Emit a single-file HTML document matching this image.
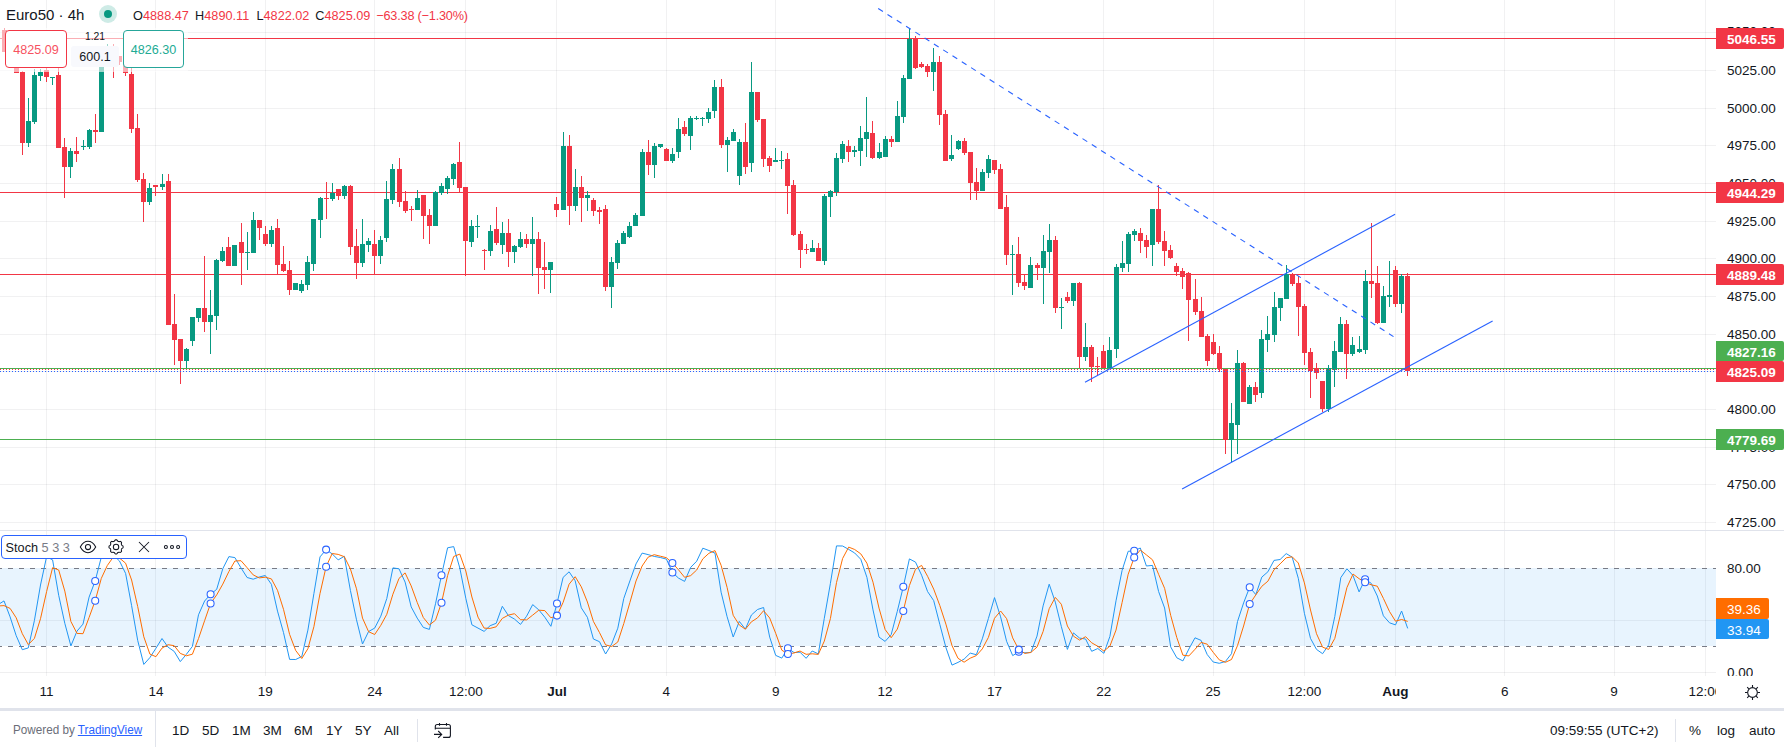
<!DOCTYPE html>
<html><head><meta charset="utf-8"><title>Euro50 chart</title>
<style>
html,body{margin:0;padding:0;background:#fff}
body{width:1784px;height:747px;position:relative;overflow:hidden;font-family:"Liberation Sans",sans-serif;color:#131722}
svg{position:absolute;left:0;top:0}
.abs{position:absolute;white-space:nowrap}
.al{position:absolute;left:1727px;font-size:13.5px;line-height:20px;color:#131722;white-space:nowrap}
.tag{position:absolute;left:1716px;color:#fff;font-size:13.5px;padding-left:11px;box-sizing:border-box;white-space:nowrap;border-radius:0 2px 2px 0}
.tl{position:absolute;top:681px;width:60px;text-align:center;font-size:13.5px;line-height:20px;color:#131722;white-space:nowrap}
#taxis{position:absolute;left:0;top:673px;width:1716px;height:35px;overflow:hidden}
#taxis .tl{top:8.7px}
.oh{top:6px;font-size:12.7px;line-height:20px;color:#131722} .oh span{color:#f23645}
.rb{position:absolute;top:721.1px;font-size:13.5px;line-height:20px;color:#131722}
</style></head><body>
<svg width="1784" height="747" viewBox="0 0 1784 747" shape-rendering="crispEdges">
<g shape-rendering="crispEdges">
<rect x="46" y="0" width="1" height="676" fill="#2a2e39" fill-opacity="0.065"/>
<rect x="155" y="0" width="1" height="676" fill="#2a2e39" fill-opacity="0.065"/>
<rect x="265" y="0" width="1" height="676" fill="#2a2e39" fill-opacity="0.065"/>
<rect x="374" y="0" width="1" height="676" fill="#2a2e39" fill-opacity="0.065"/>
<rect x="465" y="0" width="1" height="676" fill="#2a2e39" fill-opacity="0.065"/>
<rect x="556" y="0" width="1" height="676" fill="#2a2e39" fill-opacity="0.065"/>
<rect x="666" y="0" width="1" height="676" fill="#2a2e39" fill-opacity="0.065"/>
<rect x="775" y="0" width="1" height="676" fill="#2a2e39" fill-opacity="0.065"/>
<rect x="885" y="0" width="1" height="676" fill="#2a2e39" fill-opacity="0.065"/>
<rect x="994" y="0" width="1" height="676" fill="#2a2e39" fill-opacity="0.065"/>
<rect x="1103" y="0" width="1" height="676" fill="#2a2e39" fill-opacity="0.065"/>
<rect x="1213" y="0" width="1" height="676" fill="#2a2e39" fill-opacity="0.065"/>
<rect x="1304" y="0" width="1" height="676" fill="#2a2e39" fill-opacity="0.065"/>
<rect x="1395" y="0" width="1" height="676" fill="#2a2e39" fill-opacity="0.065"/>
<rect x="1504" y="0" width="1" height="676" fill="#2a2e39" fill-opacity="0.065"/>
<rect x="1614" y="0" width="1" height="676" fill="#2a2e39" fill-opacity="0.065"/>
<rect x="1705" y="0" width="1" height="676" fill="#2a2e39" fill-opacity="0.065"/>
<rect x="0" y="522" width="1716" height="1" fill="#2a2e39" fill-opacity="0.065"/>
<rect x="0" y="484" width="1716" height="1" fill="#2a2e39" fill-opacity="0.065"/>
<rect x="0" y="447" width="1716" height="1" fill="#2a2e39" fill-opacity="0.065"/>
<rect x="0" y="409" width="1716" height="1" fill="#2a2e39" fill-opacity="0.065"/>
<rect x="0" y="371" width="1716" height="1" fill="#2a2e39" fill-opacity="0.065"/>
<rect x="0" y="334" width="1716" height="1" fill="#2a2e39" fill-opacity="0.065"/>
<rect x="0" y="296" width="1716" height="1" fill="#2a2e39" fill-opacity="0.065"/>
<rect x="0" y="258" width="1716" height="1" fill="#2a2e39" fill-opacity="0.065"/>
<rect x="0" y="221" width="1716" height="1" fill="#2a2e39" fill-opacity="0.065"/>
<rect x="0" y="183" width="1716" height="1" fill="#2a2e39" fill-opacity="0.065"/>
<rect x="0" y="145" width="1716" height="1" fill="#2a2e39" fill-opacity="0.065"/>
<rect x="0" y="108" width="1716" height="1" fill="#2a2e39" fill-opacity="0.065"/>
<rect x="0" y="70" width="1716" height="1" fill="#2a2e39" fill-opacity="0.065"/>
<rect x="0" y="32" width="1716" height="1" fill="#2a2e39" fill-opacity="0.065"/>
<rect x="0" y="620" width="1716" height="1" fill="#2a2e39" fill-opacity="0.065"/>
<rect x="0" y="568.4" width="1716" height="77.8" fill="#2196f3" fill-opacity="0.1"/>
<line x1="0" y1="568.5" x2="1716" y2="568.5" stroke="#787b86" stroke-width="1" stroke-dasharray="5 6" stroke-dashoffset="3"/>
<line x1="0" y1="646.5" x2="1716" y2="646.5" stroke="#787b86" stroke-width="1" stroke-dasharray="5 6" stroke-dashoffset="3"/>
<rect x="0" y="530" width="1784" height="1" fill="#e0e3eb"/>
<rect x="0" y="672" width="1716" height="1" fill="#2a2e39" fill-opacity="0.075"/>
<rect x="0" y="38" width="1716" height="1" fill="#f23645"/>
<rect x="0" y="192" width="1716" height="1" fill="#f23645"/>
<rect x="0" y="274" width="1716" height="1" fill="#f23645"/>
<rect x="0" y="439" width="1716" height="1" fill="#4caf50"/>
<rect x="0" y="368" width="1716" height="1" fill="#4caf50"/>
<rect x="4" y="28" width="1" height="24" fill="#f23645"/>
<rect x="2" y="30" width="5" height="22" fill="#f23645"/>
<rect x="10" y="45" width="1" height="19" fill="#089981"/>
<rect x="8" y="49" width="5" height="11" fill="#089981"/>
<rect x="16" y="55" width="1" height="18" fill="#f23645"/>
<rect x="14" y="58" width="5" height="15" fill="#f23645"/>
<rect x="22" y="71" width="1" height="84" fill="#f23645"/>
<rect x="20" y="72" width="5" height="71" fill="#f23645"/>
<rect x="28" y="98" width="1" height="49" fill="#089981"/>
<rect x="26" y="121" width="5" height="22" fill="#089981"/>
<rect x="34" y="69" width="1" height="55" fill="#089981"/>
<rect x="32" y="75" width="5" height="47" fill="#089981"/>
<rect x="40" y="69" width="1" height="12" fill="#089981"/>
<rect x="38" y="72" width="5" height="4" fill="#089981"/>
<rect x="46" y="68" width="1" height="14" fill="#f23645"/>
<rect x="44" y="70" width="5" height="7" fill="#f23645"/>
<rect x="52" y="77" width="1" height="8" fill="#089981"/>
<rect x="50" y="77" width="5" height="1" fill="#089981"/>
<rect x="58" y="68" width="1" height="80" fill="#f23645"/>
<rect x="56" y="75" width="5" height="73" fill="#f23645"/>
<rect x="64" y="138" width="1" height="60" fill="#f23645"/>
<rect x="62" y="147" width="5" height="20" fill="#f23645"/>
<rect x="70" y="148" width="1" height="30" fill="#089981"/>
<rect x="68" y="151" width="5" height="16" fill="#089981"/>
<rect x="76" y="137" width="1" height="25" fill="#f23645"/>
<rect x="74" y="151" width="5" height="3" fill="#f23645"/>
<rect x="83" y="140" width="1" height="10" fill="#089981"/>
<rect x="81" y="146" width="5" height="1" fill="#089981"/>
<rect x="89" y="129" width="1" height="20" fill="#089981"/>
<rect x="87" y="130" width="5" height="17" fill="#089981"/>
<rect x="95" y="114" width="1" height="29" fill="#f23645"/>
<rect x="93" y="130" width="5" height="2" fill="#f23645"/>
<rect x="101" y="55" width="1" height="77" fill="#089981"/>
<rect x="99" y="60" width="5" height="72" fill="#089981"/>
<rect x="107" y="44" width="1" height="16" fill="#089981"/>
<rect x="105" y="48" width="5" height="10" fill="#089981"/>
<rect x="113" y="44" width="1" height="34" fill="#f23645"/>
<rect x="111" y="50" width="5" height="16" fill="#f23645"/>
<rect x="119" y="56" width="1" height="9" fill="#f23645"/>
<rect x="117" y="56" width="5" height="6" fill="#f23645"/>
<rect x="125" y="56" width="1" height="20" fill="#f23645"/>
<rect x="123" y="60" width="5" height="13" fill="#f23645"/>
<rect x="131" y="68" width="1" height="65" fill="#f23645"/>
<rect x="129" y="74" width="5" height="55" fill="#f23645"/>
<rect x="137" y="114" width="1" height="68" fill="#f23645"/>
<rect x="135" y="128" width="5" height="52" fill="#f23645"/>
<rect x="143" y="173" width="1" height="49" fill="#f23645"/>
<rect x="141" y="179" width="5" height="23" fill="#f23645"/>
<rect x="149" y="183" width="1" height="22" fill="#089981"/>
<rect x="147" y="188" width="5" height="14" fill="#089981"/>
<rect x="155" y="185" width="1" height="11" fill="#f23645"/>
<rect x="153" y="185" width="5" height="2" fill="#f23645"/>
<rect x="162" y="174" width="1" height="16" fill="#089981"/>
<rect x="160" y="184" width="5" height="3" fill="#089981"/>
<rect x="168" y="174" width="1" height="151" fill="#f23645"/>
<rect x="166" y="181" width="5" height="144" fill="#f23645"/>
<rect x="174" y="294" width="1" height="71" fill="#f23645"/>
<rect x="172" y="324" width="5" height="16" fill="#f23645"/>
<rect x="180" y="339" width="1" height="45" fill="#f23645"/>
<rect x="178" y="339" width="5" height="22" fill="#f23645"/>
<rect x="186" y="348" width="1" height="20" fill="#089981"/>
<rect x="184" y="349" width="5" height="12" fill="#089981"/>
<rect x="192" y="317" width="1" height="29" fill="#089981"/>
<rect x="190" y="317" width="5" height="24" fill="#089981"/>
<rect x="198" y="308" width="1" height="14" fill="#089981"/>
<rect x="196" y="308" width="5" height="10" fill="#089981"/>
<rect x="204" y="256" width="1" height="76" fill="#f23645"/>
<rect x="202" y="308" width="5" height="14" fill="#f23645"/>
<rect x="210" y="290" width="1" height="64" fill="#089981"/>
<rect x="208" y="315" width="5" height="7" fill="#089981"/>
<rect x="216" y="259" width="1" height="71" fill="#089981"/>
<rect x="214" y="260" width="5" height="56" fill="#089981"/>
<rect x="222" y="247" width="1" height="15" fill="#089981"/>
<rect x="220" y="251" width="5" height="10" fill="#089981"/>
<rect x="228" y="237" width="1" height="29" fill="#f23645"/>
<rect x="226" y="247" width="5" height="19" fill="#f23645"/>
<rect x="234" y="245" width="1" height="21" fill="#089981"/>
<rect x="232" y="245" width="5" height="21" fill="#089981"/>
<rect x="241" y="223" width="1" height="62" fill="#f23645"/>
<rect x="239" y="242" width="5" height="11" fill="#f23645"/>
<rect x="247" y="232" width="1" height="38" fill="#089981"/>
<rect x="245" y="252" width="5" height="1" fill="#089981"/>
<rect x="253" y="212" width="1" height="41" fill="#089981"/>
<rect x="251" y="220" width="5" height="33" fill="#089981"/>
<rect x="259" y="220" width="1" height="20" fill="#f23645"/>
<rect x="257" y="220" width="5" height="8" fill="#f23645"/>
<rect x="265" y="226" width="1" height="20" fill="#f23645"/>
<rect x="263" y="234" width="5" height="10" fill="#f23645"/>
<rect x="271" y="226" width="1" height="21" fill="#089981"/>
<rect x="269" y="230" width="5" height="14" fill="#089981"/>
<rect x="277" y="219" width="1" height="56" fill="#f23645"/>
<rect x="275" y="228" width="5" height="37" fill="#f23645"/>
<rect x="283" y="246" width="1" height="26" fill="#f23645"/>
<rect x="281" y="264" width="5" height="7" fill="#f23645"/>
<rect x="289" y="261" width="1" height="34" fill="#f23645"/>
<rect x="287" y="270" width="5" height="20" fill="#f23645"/>
<rect x="295" y="283" width="1" height="7" fill="#089981"/>
<rect x="293" y="283" width="5" height="7" fill="#089981"/>
<rect x="301" y="280" width="1" height="13" fill="#089981"/>
<rect x="299" y="284" width="5" height="7" fill="#089981"/>
<rect x="307" y="256" width="1" height="34" fill="#089981"/>
<rect x="305" y="262" width="5" height="23" fill="#089981"/>
<rect x="313" y="219" width="1" height="52" fill="#089981"/>
<rect x="311" y="219" width="5" height="45" fill="#089981"/>
<rect x="320" y="197" width="1" height="41" fill="#089981"/>
<rect x="318" y="198" width="5" height="22" fill="#089981"/>
<rect x="326" y="182" width="1" height="37" fill="#f23645"/>
<rect x="324" y="198" width="5" height="1" fill="#f23645"/>
<rect x="332" y="183" width="1" height="18" fill="#089981"/>
<rect x="330" y="193" width="5" height="6" fill="#089981"/>
<rect x="338" y="189" width="1" height="11" fill="#f23645"/>
<rect x="336" y="189" width="5" height="7" fill="#f23645"/>
<rect x="344" y="185" width="1" height="14" fill="#089981"/>
<rect x="342" y="186" width="5" height="10" fill="#089981"/>
<rect x="350" y="185" width="1" height="70" fill="#f23645"/>
<rect x="348" y="186" width="5" height="61" fill="#f23645"/>
<rect x="356" y="229" width="1" height="50" fill="#f23645"/>
<rect x="354" y="246" width="5" height="17" fill="#f23645"/>
<rect x="362" y="219" width="1" height="48" fill="#089981"/>
<rect x="360" y="244" width="5" height="19" fill="#089981"/>
<rect x="368" y="238" width="1" height="14" fill="#089981"/>
<rect x="366" y="241" width="5" height="4" fill="#089981"/>
<rect x="374" y="230" width="1" height="45" fill="#f23645"/>
<rect x="372" y="244" width="5" height="12" fill="#f23645"/>
<rect x="380" y="236" width="1" height="28" fill="#089981"/>
<rect x="378" y="240" width="5" height="16" fill="#089981"/>
<rect x="386" y="181" width="1" height="61" fill="#089981"/>
<rect x="384" y="199" width="5" height="39" fill="#089981"/>
<rect x="392" y="164" width="1" height="40" fill="#089981"/>
<rect x="390" y="169" width="5" height="31" fill="#089981"/>
<rect x="399" y="158" width="1" height="49" fill="#f23645"/>
<rect x="397" y="169" width="5" height="33" fill="#f23645"/>
<rect x="405" y="191" width="1" height="22" fill="#f23645"/>
<rect x="403" y="201" width="5" height="10" fill="#f23645"/>
<rect x="411" y="206" width="1" height="15" fill="#f23645"/>
<rect x="409" y="209" width="5" height="1" fill="#f23645"/>
<rect x="417" y="190" width="1" height="20" fill="#089981"/>
<rect x="415" y="198" width="5" height="12" fill="#089981"/>
<rect x="423" y="195" width="1" height="44" fill="#f23645"/>
<rect x="421" y="195" width="5" height="21" fill="#f23645"/>
<rect x="429" y="209" width="1" height="35" fill="#f23645"/>
<rect x="427" y="215" width="5" height="11" fill="#f23645"/>
<rect x="435" y="191" width="1" height="35" fill="#089981"/>
<rect x="433" y="192" width="5" height="34" fill="#089981"/>
<rect x="441" y="183" width="1" height="12" fill="#089981"/>
<rect x="439" y="186" width="5" height="7" fill="#089981"/>
<rect x="447" y="176" width="1" height="18" fill="#089981"/>
<rect x="445" y="178" width="5" height="11" fill="#089981"/>
<rect x="453" y="163" width="1" height="22" fill="#089981"/>
<rect x="451" y="164" width="5" height="15" fill="#089981"/>
<rect x="459" y="142" width="1" height="51" fill="#f23645"/>
<rect x="457" y="162" width="5" height="26" fill="#f23645"/>
<rect x="465" y="187" width="1" height="89" fill="#f23645"/>
<rect x="463" y="187" width="5" height="54" fill="#f23645"/>
<rect x="471" y="220" width="1" height="27" fill="#089981"/>
<rect x="469" y="226" width="5" height="16" fill="#089981"/>
<rect x="477" y="215" width="1" height="23" fill="#089981"/>
<rect x="475" y="226" width="5" height="1" fill="#089981"/>
<rect x="484" y="249" width="1" height="21" fill="#f23645"/>
<rect x="482" y="250" width="5" height="1" fill="#f23645"/>
<rect x="490" y="225" width="1" height="31" fill="#089981"/>
<rect x="488" y="231" width="5" height="20" fill="#089981"/>
<rect x="496" y="207" width="1" height="38" fill="#f23645"/>
<rect x="494" y="229" width="5" height="14" fill="#f23645"/>
<rect x="502" y="222" width="1" height="32" fill="#089981"/>
<rect x="500" y="233" width="5" height="12" fill="#089981"/>
<rect x="508" y="219" width="1" height="48" fill="#f23645"/>
<rect x="506" y="233" width="5" height="19" fill="#f23645"/>
<rect x="514" y="245" width="1" height="18" fill="#089981"/>
<rect x="512" y="246" width="5" height="6" fill="#089981"/>
<rect x="520" y="232" width="1" height="16" fill="#089981"/>
<rect x="518" y="239" width="5" height="8" fill="#089981"/>
<rect x="526" y="234" width="1" height="14" fill="#f23645"/>
<rect x="524" y="239" width="5" height="5" fill="#f23645"/>
<rect x="532" y="217" width="1" height="59" fill="#089981"/>
<rect x="530" y="239" width="5" height="5" fill="#089981"/>
<rect x="538" y="232" width="1" height="62" fill="#f23645"/>
<rect x="536" y="239" width="5" height="29" fill="#f23645"/>
<rect x="544" y="242" width="1" height="47" fill="#f23645"/>
<rect x="542" y="267" width="5" height="3" fill="#f23645"/>
<rect x="550" y="262" width="1" height="31" fill="#089981"/>
<rect x="548" y="262" width="5" height="8" fill="#089981"/>
<rect x="556" y="197" width="1" height="20" fill="#f23645"/>
<rect x="554" y="204" width="5" height="6" fill="#f23645"/>
<rect x="563" y="132" width="1" height="78" fill="#089981"/>
<rect x="561" y="146" width="5" height="64" fill="#089981"/>
<rect x="569" y="135" width="1" height="90" fill="#f23645"/>
<rect x="567" y="146" width="5" height="60" fill="#f23645"/>
<rect x="575" y="169" width="1" height="42" fill="#089981"/>
<rect x="573" y="187" width="5" height="19" fill="#089981"/>
<rect x="581" y="176" width="1" height="46" fill="#f23645"/>
<rect x="579" y="187" width="5" height="11" fill="#f23645"/>
<rect x="587" y="191" width="1" height="20" fill="#089981"/>
<rect x="585" y="195" width="5" height="3" fill="#089981"/>
<rect x="593" y="198" width="1" height="18" fill="#f23645"/>
<rect x="591" y="200" width="5" height="11" fill="#f23645"/>
<rect x="599" y="207" width="1" height="17" fill="#f23645"/>
<rect x="597" y="210" width="5" height="2" fill="#f23645"/>
<rect x="605" y="205" width="1" height="86" fill="#f23645"/>
<rect x="603" y="209" width="5" height="78" fill="#f23645"/>
<rect x="611" y="257" width="1" height="51" fill="#089981"/>
<rect x="609" y="262" width="5" height="25" fill="#089981"/>
<rect x="617" y="240" width="1" height="29" fill="#089981"/>
<rect x="615" y="243" width="5" height="20" fill="#089981"/>
<rect x="623" y="231" width="1" height="13" fill="#089981"/>
<rect x="621" y="233" width="5" height="11" fill="#089981"/>
<rect x="629" y="222" width="1" height="16" fill="#089981"/>
<rect x="627" y="226" width="5" height="11" fill="#089981"/>
<rect x="635" y="213" width="1" height="13" fill="#089981"/>
<rect x="633" y="215" width="5" height="11" fill="#089981"/>
<rect x="642" y="149" width="1" height="67" fill="#089981"/>
<rect x="640" y="152" width="5" height="64" fill="#089981"/>
<rect x="648" y="140" width="1" height="35" fill="#f23645"/>
<rect x="646" y="152" width="5" height="13" fill="#f23645"/>
<rect x="654" y="143" width="1" height="35" fill="#089981"/>
<rect x="652" y="146" width="5" height="19" fill="#089981"/>
<rect x="660" y="144" width="1" height="4" fill="#089981"/>
<rect x="658" y="144" width="5" height="3" fill="#089981"/>
<rect x="666" y="148" width="1" height="13" fill="#f23645"/>
<rect x="664" y="149" width="5" height="12" fill="#f23645"/>
<rect x="672" y="148" width="1" height="15" fill="#089981"/>
<rect x="670" y="154" width="5" height="7" fill="#089981"/>
<rect x="678" y="118" width="1" height="40" fill="#089981"/>
<rect x="676" y="129" width="5" height="23" fill="#089981"/>
<rect x="684" y="121" width="1" height="15" fill="#f23645"/>
<rect x="682" y="127" width="5" height="7" fill="#f23645"/>
<rect x="690" y="116" width="1" height="34" fill="#089981"/>
<rect x="688" y="118" width="5" height="18" fill="#089981"/>
<rect x="696" y="116" width="1" height="4" fill="#089981"/>
<rect x="694" y="118" width="5" height="1" fill="#089981"/>
<rect x="702" y="117" width="1" height="9" fill="#089981"/>
<rect x="700" y="118" width="5" height="1" fill="#089981"/>
<rect x="708" y="108" width="1" height="15" fill="#089981"/>
<rect x="706" y="112" width="5" height="7" fill="#089981"/>
<rect x="714" y="80" width="1" height="38" fill="#089981"/>
<rect x="712" y="87" width="5" height="24" fill="#089981"/>
<rect x="721" y="79" width="1" height="69" fill="#f23645"/>
<rect x="719" y="87" width="5" height="58" fill="#f23645"/>
<rect x="727" y="137" width="1" height="35" fill="#089981"/>
<rect x="725" y="140" width="5" height="5" fill="#089981"/>
<rect x="733" y="129" width="1" height="12" fill="#089981"/>
<rect x="731" y="132" width="5" height="9" fill="#089981"/>
<rect x="739" y="139" width="1" height="46" fill="#089981"/>
<rect x="737" y="142" width="5" height="34" fill="#089981"/>
<rect x="745" y="123" width="1" height="51" fill="#f23645"/>
<rect x="743" y="142" width="5" height="25" fill="#f23645"/>
<rect x="751" y="62" width="1" height="110" fill="#089981"/>
<rect x="749" y="92" width="5" height="71" fill="#089981"/>
<rect x="757" y="92" width="1" height="30" fill="#f23645"/>
<rect x="755" y="92" width="5" height="28" fill="#f23645"/>
<rect x="763" y="119" width="1" height="48" fill="#f23645"/>
<rect x="761" y="119" width="5" height="40" fill="#f23645"/>
<rect x="769" y="156" width="1" height="16" fill="#f23645"/>
<rect x="767" y="158" width="5" height="8" fill="#f23645"/>
<rect x="775" y="148" width="1" height="14" fill="#089981"/>
<rect x="773" y="160" width="5" height="2" fill="#089981"/>
<rect x="781" y="151" width="1" height="18" fill="#089981"/>
<rect x="779" y="160" width="5" height="1" fill="#089981"/>
<rect x="787" y="153" width="1" height="61" fill="#f23645"/>
<rect x="785" y="159" width="5" height="27" fill="#f23645"/>
<rect x="793" y="180" width="1" height="56" fill="#f23645"/>
<rect x="791" y="185" width="5" height="50" fill="#f23645"/>
<rect x="800" y="231" width="1" height="37" fill="#f23645"/>
<rect x="798" y="234" width="5" height="16" fill="#f23645"/>
<rect x="806" y="244" width="1" height="10" fill="#f23645"/>
<rect x="804" y="249" width="5" height="1" fill="#f23645"/>
<rect x="812" y="240" width="1" height="12" fill="#089981"/>
<rect x="810" y="248" width="5" height="4" fill="#089981"/>
<rect x="818" y="243" width="1" height="18" fill="#f23645"/>
<rect x="816" y="248" width="5" height="13" fill="#f23645"/>
<rect x="824" y="194" width="1" height="71" fill="#089981"/>
<rect x="822" y="196" width="5" height="65" fill="#089981"/>
<rect x="830" y="190" width="1" height="27" fill="#089981"/>
<rect x="828" y="191" width="5" height="6" fill="#089981"/>
<rect x="836" y="153" width="1" height="43" fill="#089981"/>
<rect x="834" y="158" width="5" height="34" fill="#089981"/>
<rect x="842" y="141" width="1" height="22" fill="#089981"/>
<rect x="840" y="144" width="5" height="15" fill="#089981"/>
<rect x="848" y="140" width="1" height="22" fill="#f23645"/>
<rect x="846" y="146" width="5" height="6" fill="#f23645"/>
<rect x="854" y="146" width="1" height="11" fill="#089981"/>
<rect x="852" y="150" width="5" height="2" fill="#089981"/>
<rect x="860" y="126" width="1" height="40" fill="#089981"/>
<rect x="858" y="138" width="5" height="13" fill="#089981"/>
<rect x="866" y="97" width="1" height="60" fill="#089981"/>
<rect x="864" y="132" width="5" height="7" fill="#089981"/>
<rect x="872" y="121" width="1" height="38" fill="#f23645"/>
<rect x="870" y="133" width="5" height="25" fill="#f23645"/>
<rect x="879" y="143" width="1" height="16" fill="#089981"/>
<rect x="877" y="152" width="5" height="6" fill="#089981"/>
<rect x="885" y="136" width="1" height="21" fill="#089981"/>
<rect x="883" y="139" width="5" height="18" fill="#089981"/>
<rect x="891" y="136" width="1" height="11" fill="#f23645"/>
<rect x="889" y="139" width="5" height="3" fill="#f23645"/>
<rect x="897" y="101" width="1" height="41" fill="#089981"/>
<rect x="895" y="116" width="5" height="26" fill="#089981"/>
<rect x="903" y="75" width="1" height="48" fill="#089981"/>
<rect x="901" y="78" width="5" height="39" fill="#089981"/>
<rect x="909" y="28" width="1" height="51" fill="#089981"/>
<rect x="907" y="39" width="5" height="40" fill="#089981"/>
<rect x="915" y="36" width="1" height="33" fill="#f23645"/>
<rect x="913" y="38" width="5" height="30" fill="#f23645"/>
<rect x="921" y="62" width="1" height="6" fill="#f23645"/>
<rect x="919" y="64" width="5" height="3" fill="#f23645"/>
<rect x="927" y="64" width="1" height="13" fill="#f23645"/>
<rect x="925" y="66" width="5" height="6" fill="#f23645"/>
<rect x="933" y="48" width="1" height="43" fill="#089981"/>
<rect x="931" y="62" width="5" height="10" fill="#089981"/>
<rect x="939" y="56" width="1" height="69" fill="#f23645"/>
<rect x="937" y="62" width="5" height="53" fill="#f23645"/>
<rect x="945" y="110" width="1" height="51" fill="#f23645"/>
<rect x="943" y="114" width="5" height="47" fill="#f23645"/>
<rect x="951" y="135" width="1" height="26" fill="#089981"/>
<rect x="949" y="155" width="5" height="4" fill="#089981"/>
<rect x="958" y="140" width="1" height="10" fill="#089981"/>
<rect x="956" y="141" width="5" height="8" fill="#089981"/>
<rect x="964" y="138" width="1" height="17" fill="#f23645"/>
<rect x="962" y="141" width="5" height="12" fill="#f23645"/>
<rect x="970" y="152" width="1" height="48" fill="#f23645"/>
<rect x="968" y="152" width="5" height="31" fill="#f23645"/>
<rect x="976" y="168" width="1" height="32" fill="#f23645"/>
<rect x="974" y="182" width="5" height="9" fill="#f23645"/>
<rect x="982" y="169" width="1" height="22" fill="#089981"/>
<rect x="980" y="172" width="5" height="19" fill="#089981"/>
<rect x="988" y="155" width="1" height="23" fill="#089981"/>
<rect x="986" y="159" width="5" height="14" fill="#089981"/>
<rect x="994" y="160" width="1" height="14" fill="#f23645"/>
<rect x="992" y="160" width="5" height="10" fill="#f23645"/>
<rect x="1000" y="164" width="1" height="45" fill="#f23645"/>
<rect x="998" y="169" width="5" height="40" fill="#f23645"/>
<rect x="1006" y="195" width="1" height="70" fill="#f23645"/>
<rect x="1004" y="207" width="5" height="48" fill="#f23645"/>
<rect x="1012" y="245" width="1" height="50" fill="#089981"/>
<rect x="1010" y="254" width="5" height="1" fill="#089981"/>
<rect x="1018" y="237" width="1" height="50" fill="#f23645"/>
<rect x="1016" y="254" width="5" height="29" fill="#f23645"/>
<rect x="1024" y="275" width="1" height="15" fill="#f23645"/>
<rect x="1022" y="282" width="5" height="4" fill="#f23645"/>
<rect x="1030" y="257" width="1" height="31" fill="#089981"/>
<rect x="1028" y="265" width="5" height="23" fill="#089981"/>
<rect x="1037" y="263" width="1" height="17" fill="#f23645"/>
<rect x="1035" y="265" width="5" height="3" fill="#f23645"/>
<rect x="1043" y="235" width="1" height="69" fill="#089981"/>
<rect x="1041" y="251" width="5" height="17" fill="#089981"/>
<rect x="1049" y="224" width="1" height="49" fill="#089981"/>
<rect x="1047" y="240" width="5" height="12" fill="#089981"/>
<rect x="1055" y="236" width="1" height="77" fill="#f23645"/>
<rect x="1053" y="240" width="5" height="68" fill="#f23645"/>
<rect x="1061" y="298" width="1" height="31" fill="#089981"/>
<rect x="1059" y="307" width="5" height="1" fill="#089981"/>
<rect x="1067" y="292" width="1" height="11" fill="#f23645"/>
<rect x="1065" y="297" width="5" height="4" fill="#f23645"/>
<rect x="1073" y="283" width="1" height="23" fill="#089981"/>
<rect x="1071" y="283" width="5" height="18" fill="#089981"/>
<rect x="1079" y="282" width="1" height="86" fill="#f23645"/>
<rect x="1077" y="283" width="5" height="74" fill="#f23645"/>
<rect x="1085" y="323" width="1" height="38" fill="#089981"/>
<rect x="1083" y="347" width="5" height="10" fill="#089981"/>
<rect x="1091" y="345" width="1" height="37" fill="#f23645"/>
<rect x="1089" y="347" width="5" height="20" fill="#f23645"/>
<rect x="1097" y="357" width="1" height="18" fill="#f23645"/>
<rect x="1095" y="366" width="5" height="1" fill="#f23645"/>
<rect x="1103" y="345" width="1" height="23" fill="#f23645"/>
<rect x="1101" y="351" width="5" height="17" fill="#f23645"/>
<rect x="1109" y="337" width="1" height="31" fill="#089981"/>
<rect x="1107" y="350" width="5" height="18" fill="#089981"/>
<rect x="1116" y="264" width="1" height="94" fill="#089981"/>
<rect x="1114" y="267" width="5" height="82" fill="#089981"/>
<rect x="1122" y="241" width="1" height="31" fill="#089981"/>
<rect x="1120" y="263" width="5" height="5" fill="#089981"/>
<rect x="1128" y="232" width="1" height="40" fill="#089981"/>
<rect x="1126" y="234" width="5" height="30" fill="#089981"/>
<rect x="1134" y="229" width="1" height="12" fill="#089981"/>
<rect x="1132" y="231" width="5" height="4" fill="#089981"/>
<rect x="1140" y="228" width="1" height="25" fill="#f23645"/>
<rect x="1138" y="233" width="5" height="8" fill="#f23645"/>
<rect x="1146" y="235" width="1" height="23" fill="#f23645"/>
<rect x="1144" y="240" width="5" height="7" fill="#f23645"/>
<rect x="1152" y="209" width="1" height="57" fill="#089981"/>
<rect x="1150" y="209" width="5" height="36" fill="#089981"/>
<rect x="1158" y="185" width="1" height="59" fill="#f23645"/>
<rect x="1156" y="209" width="5" height="33" fill="#f23645"/>
<rect x="1164" y="231" width="1" height="35" fill="#f23645"/>
<rect x="1162" y="241" width="5" height="10" fill="#f23645"/>
<rect x="1170" y="245" width="1" height="14" fill="#f23645"/>
<rect x="1168" y="250" width="5" height="8" fill="#f23645"/>
<rect x="1176" y="263" width="1" height="13" fill="#f23645"/>
<rect x="1174" y="266" width="5" height="6" fill="#f23645"/>
<rect x="1182" y="268" width="1" height="21" fill="#f23645"/>
<rect x="1180" y="271" width="5" height="6" fill="#f23645"/>
<rect x="1188" y="272" width="1" height="69" fill="#f23645"/>
<rect x="1186" y="273" width="5" height="27" fill="#f23645"/>
<rect x="1195" y="279" width="1" height="36" fill="#f23645"/>
<rect x="1193" y="299" width="5" height="13" fill="#f23645"/>
<rect x="1201" y="297" width="1" height="40" fill="#f23645"/>
<rect x="1199" y="311" width="5" height="26" fill="#f23645"/>
<rect x="1207" y="334" width="1" height="32" fill="#f23645"/>
<rect x="1205" y="336" width="5" height="25" fill="#f23645"/>
<rect x="1213" y="334" width="1" height="21" fill="#f23645"/>
<rect x="1211" y="342" width="5" height="12" fill="#f23645"/>
<rect x="1219" y="346" width="1" height="26" fill="#f23645"/>
<rect x="1217" y="353" width="5" height="16" fill="#f23645"/>
<rect x="1225" y="369" width="1" height="85" fill="#f23645"/>
<rect x="1223" y="369" width="5" height="71" fill="#f23645"/>
<rect x="1231" y="403" width="1" height="59" fill="#089981"/>
<rect x="1229" y="423" width="5" height="17" fill="#089981"/>
<rect x="1237" y="350" width="1" height="104" fill="#089981"/>
<rect x="1235" y="363" width="5" height="62" fill="#089981"/>
<rect x="1243" y="362" width="1" height="40" fill="#f23645"/>
<rect x="1241" y="363" width="5" height="39" fill="#f23645"/>
<rect x="1249" y="385" width="1" height="19" fill="#089981"/>
<rect x="1247" y="387" width="5" height="17" fill="#089981"/>
<rect x="1255" y="382" width="1" height="20" fill="#f23645"/>
<rect x="1253" y="387" width="5" height="8" fill="#f23645"/>
<rect x="1261" y="330" width="1" height="68" fill="#089981"/>
<rect x="1259" y="339" width="5" height="54" fill="#089981"/>
<rect x="1267" y="316" width="1" height="36" fill="#089981"/>
<rect x="1265" y="334" width="5" height="6" fill="#089981"/>
<rect x="1274" y="292" width="1" height="50" fill="#089981"/>
<rect x="1272" y="307" width="5" height="28" fill="#089981"/>
<rect x="1280" y="298" width="1" height="23" fill="#089981"/>
<rect x="1278" y="298" width="5" height="10" fill="#089981"/>
<rect x="1286" y="265" width="1" height="34" fill="#089981"/>
<rect x="1284" y="274" width="5" height="25" fill="#089981"/>
<rect x="1292" y="273" width="1" height="13" fill="#f23645"/>
<rect x="1290" y="274" width="5" height="10" fill="#f23645"/>
<rect x="1298" y="276" width="1" height="60" fill="#f23645"/>
<rect x="1296" y="283" width="5" height="24" fill="#f23645"/>
<rect x="1304" y="304" width="1" height="61" fill="#f23645"/>
<rect x="1302" y="306" width="5" height="47" fill="#f23645"/>
<rect x="1310" y="348" width="1" height="50" fill="#f23645"/>
<rect x="1308" y="352" width="5" height="19" fill="#f23645"/>
<rect x="1316" y="363" width="1" height="16" fill="#f23645"/>
<rect x="1314" y="368" width="5" height="5" fill="#f23645"/>
<rect x="1322" y="381" width="1" height="31" fill="#f23645"/>
<rect x="1320" y="381" width="5" height="28" fill="#f23645"/>
<rect x="1328" y="365" width="1" height="47" fill="#089981"/>
<rect x="1326" y="368" width="5" height="41" fill="#089981"/>
<rect x="1334" y="341" width="1" height="46" fill="#089981"/>
<rect x="1332" y="351" width="5" height="19" fill="#089981"/>
<rect x="1340" y="317" width="1" height="35" fill="#089981"/>
<rect x="1338" y="324" width="5" height="28" fill="#089981"/>
<rect x="1346" y="320" width="1" height="59" fill="#f23645"/>
<rect x="1344" y="324" width="5" height="30" fill="#f23645"/>
<rect x="1352" y="337" width="1" height="19" fill="#089981"/>
<rect x="1350" y="345" width="5" height="9" fill="#089981"/>
<rect x="1359" y="336" width="1" height="17" fill="#089981"/>
<rect x="1357" y="349" width="5" height="3" fill="#089981"/>
<rect x="1365" y="270" width="1" height="84" fill="#089981"/>
<rect x="1363" y="281" width="5" height="69" fill="#089981"/>
<rect x="1371" y="223" width="1" height="75" fill="#f23645"/>
<rect x="1369" y="281" width="5" height="3" fill="#f23645"/>
<rect x="1377" y="266" width="1" height="58" fill="#f23645"/>
<rect x="1375" y="283" width="5" height="40" fill="#f23645"/>
<rect x="1383" y="286" width="1" height="37" fill="#089981"/>
<rect x="1381" y="296" width="5" height="27" fill="#089981"/>
<rect x="1389" y="261" width="1" height="46" fill="#089981"/>
<rect x="1387" y="295" width="5" height="2" fill="#089981"/>
<rect x="1395" y="266" width="1" height="41" fill="#f23645"/>
<rect x="1393" y="270" width="5" height="34" fill="#f23645"/>
<rect x="1401" y="274" width="1" height="39" fill="#089981"/>
<rect x="1399" y="276" width="5" height="28" fill="#089981"/>
<rect x="1407" y="273" width="1" height="103" fill="#f23645"/>
<rect x="1405" y="276" width="5" height="95" fill="#f23645"/>
<line x1="0" y1="369.5" x2="1716" y2="369.5" stroke="#f23645" stroke-width="1" stroke-dasharray="1 2"/>
<line x1="0" y1="371.5" x2="1716" y2="371.5" stroke="#2962ff" stroke-width="1" stroke-dasharray="1 2"/>
<line x1="878.2" y1="8.5" x2="1393.5" y2="336.6" stroke="#2962ff" stroke-width="1.1" stroke-dasharray="5.6 5.41" shape-rendering="geometricPrecision"/>
<line x1="1085" y1="382.3" x2="1395.1" y2="214.3" stroke="#2962ff" stroke-width="1.1" shape-rendering="geometricPrecision"/>
<line x1="1182.1" y1="488.9" x2="1492.6" y2="321.1" stroke="#2962ff" stroke-width="1.1" shape-rendering="geometricPrecision"/>
<polyline points="-2.0,604.7 4.0,600.9 10.1,616.9 16.2,635.7 22.3,649.7 28.3,647.9 34.4,620.6 40.5,585.0 46.6,556.7 52.6,559.9 58.7,595.3 64.8,623.3 70.9,645.9 77.0,631.1 83.0,624.1 89.1,597.1 95.2,580.9 101.3,557.2 107.3,558.3 113.4,555.1 119.5,561.0 125.6,573.4 131.6,605.6 137.7,640.4 143.8,664.4 149.9,657.6 155.9,648.3 162.0,638.5 168.1,647.2 174.2,651.4 180.3,661.6 186.3,654.4 192.4,646.4 198.5,614.8 204.6,601.0 210.6,594.3 216.7,589.3 222.8,568.7 228.9,556.6 234.9,557.6 241.0,567.9 247.1,577.5 253.2,579.2 259.2,577.0 265.3,575.5 271.4,584.3 277.5,611.1 283.5,632.6 289.6,659.4 295.7,659.5 301.8,656.5 307.9,630.1 313.9,593.6 320.0,556.9 326.1,549.6 332.2,553.9 338.2,559.9 344.3,556.3 350.4,590.4 356.5,619.8 362.5,644.0 368.6,631.5 374.7,628.1 380.8,616.2 386.8,598.5 392.9,567.9 399.0,568.8 405.1,582.1 411.2,606.9 417.2,618.1 423.3,627.4 429.4,629.4 435.5,603.8 441.5,575.2 447.6,547.8 453.7,546.6 459.8,568.0 465.8,598.3 471.9,624.8 478.0,628.1 484.1,631.4 490.1,625.7 496.2,623.3 502.3,606.3 508.4,615.6 514.5,619.1 520.5,624.4 526.6,616.2 532.7,604.6 538.8,609.9 544.8,617.2 550.9,626.3 557.0,603.4 563.1,577.4 569.1,571.8 575.2,580.8 581.3,607.8 587.4,617.3 593.4,639.0 599.5,641.7 605.6,654.0 611.7,643.9 617.8,628.2 623.8,598.4 629.9,580.9 636.0,563.9 642.1,553.1 648.1,554.6 654.2,556.4 660.3,557.5 666.4,559.1 672.4,572.4 678.5,578.1 684.6,581.4 690.7,567.3 696.7,561.2 702.8,548.2 708.9,550.5 715.0,553.2 721.1,592.2 727.1,616.7 733.2,637.0 739.3,621.4 745.4,629.1 751.4,615.0 757.5,609.5 763.6,607.5 769.7,637.1 775.7,655.4 781.8,658.1 787.9,648.3 794.0,652.5 800.0,652.2 806.1,658.3 812.2,651.0 818.3,653.9 824.3,618.3 830.4,583.4 836.5,545.9 842.6,546.0 848.7,549.4 854.7,553.0 860.8,559.3 866.9,577.3 873.0,609.9 879.0,637.1 885.1,641.4 891.2,634.6 897.3,611.3 903.3,586.7 909.4,558.9 915.5,562.1 921.6,575.2 927.6,591.6 933.7,600.6 939.8,624.3 945.9,647.5 952.0,665.1 958.0,662.4 964.1,659.1 970.2,653.1 976.3,654.7 982.3,638.8 988.4,618.5 994.5,597.6 1000.6,616.8 1006.6,641.3 1012.7,655.6 1018.8,651.8 1024.9,652.8 1030.9,652.5 1037.0,636.1 1043.1,605.9 1049.2,584.2 1055.3,602.1 1061.3,626.4 1067.4,649.4 1073.5,632.9 1079.6,638.1 1085.6,639.0 1091.7,651.3 1097.8,648.5 1103.9,653.3 1109.9,636.4 1116.0,600.8 1122.1,570.4 1128.2,551.3 1134.2,550.8 1140.3,548.0 1146.4,566.0 1152.5,565.4 1158.6,591.5 1164.6,608.0 1170.7,646.9 1176.8,657.8 1182.9,660.9 1188.9,649.0 1195.0,637.8 1201.1,640.4 1207.2,654.5 1213.2,662.0 1219.3,663.3 1225.4,661.5 1231.5,653.7 1237.5,621.5 1243.6,602.9 1249.7,587.2 1255.8,594.6 1261.8,577.1 1267.9,571.8 1274.0,560.4 1280.1,559.5 1286.2,553.6 1292.2,557.2 1298.3,578.3 1304.4,613.3 1310.5,638.4 1316.5,649.4 1322.6,653.7 1328.7,644.9 1334.8,616.5 1340.8,577.6 1346.9,568.8 1353.0,575.5 1359.1,591.9 1365.1,579.3 1371.2,583.3 1377.3,596.0 1383.4,615.8 1389.5,622.8 1395.5,624.9 1401.6,611.0 1407.7,628.4" fill="none" stroke="#2196f3" stroke-width="1" stroke-linejoin="round" shape-rendering="geometricPrecision"/>
<polyline points="-2.0,606.0 4.0,605.6 10.1,608.4 16.2,617.8 22.3,633.7 28.3,644.6 34.4,638.4 40.5,618.7 46.6,591.6 52.6,567.7 58.7,570.0 64.8,591.1 70.9,621.5 77.0,633.4 83.0,633.7 89.1,617.4 95.2,600.7 101.3,578.4 107.3,565.5 113.4,556.9 119.5,558.1 125.6,563.2 131.6,580.0 137.7,606.5 143.8,636.8 149.9,654.1 155.9,656.7 162.0,648.1 168.1,644.7 174.2,645.7 180.3,653.4 186.3,655.8 192.4,654.2 198.5,638.6 204.6,620.7 210.6,603.4 216.7,594.9 222.8,584.1 228.9,571.5 234.9,561.0 241.0,560.7 247.1,567.7 253.2,574.9 259.2,577.9 265.3,577.2 271.4,578.9 277.5,590.3 283.5,609.3 289.6,634.4 295.7,650.5 301.8,658.5 307.9,648.7 313.9,626.7 320.0,593.5 326.1,566.7 332.2,553.5 338.2,554.4 344.3,556.7 350.4,568.9 356.5,588.8 362.5,618.1 368.6,631.7 374.7,634.5 380.8,625.3 386.8,614.3 392.9,594.2 399.0,578.4 405.1,572.9 411.2,585.9 417.2,602.4 423.3,617.5 429.4,625.0 435.5,620.2 441.5,602.8 447.6,575.6 453.7,556.5 459.8,554.1 465.8,571.0 471.9,597.0 478.0,617.1 484.1,628.1 490.1,628.4 496.2,626.8 502.3,618.4 508.4,615.1 514.5,613.7 520.5,619.7 526.6,619.9 532.7,615.1 538.8,610.2 544.8,610.6 550.9,617.8 557.0,615.6 563.1,602.4 569.1,584.2 575.2,576.7 581.3,586.8 587.4,602.0 593.4,621.4 599.5,632.6 605.6,644.9 611.7,646.5 617.8,642.0 623.8,623.5 629.9,602.5 636.0,581.0 642.1,566.0 648.1,557.2 654.2,554.7 660.3,556.2 666.4,557.7 672.4,563.0 678.5,569.8 684.6,577.3 690.7,575.6 696.7,570.0 702.8,558.9 708.9,553.3 715.0,550.6 721.1,565.3 727.1,587.4 733.2,615.3 739.3,625.0 745.4,629.2 751.4,621.8 757.5,617.9 763.6,610.7 769.7,618.0 775.7,633.3 781.8,650.2 787.9,653.9 794.0,653.0 800.0,651.0 806.1,654.3 812.2,653.8 818.3,654.4 824.3,641.1 830.4,618.6 836.5,582.6 842.6,558.5 848.7,547.1 854.7,549.5 860.8,553.9 866.9,563.2 873.0,582.2 879.0,608.1 885.1,629.5 891.2,637.7 897.3,629.1 903.3,610.9 909.4,585.6 915.5,569.2 921.6,565.4 927.6,576.3 933.7,589.1 939.8,605.5 945.9,624.1 952.0,645.6 958.0,658.3 964.1,662.2 970.2,658.2 976.3,655.6 982.3,648.9 988.4,637.4 994.5,618.3 1000.6,611.0 1006.6,618.6 1012.7,637.9 1018.8,649.6 1024.9,653.4 1030.9,652.4 1037.0,647.1 1043.1,631.5 1049.2,608.7 1055.3,597.4 1061.3,604.2 1067.4,626.0 1073.5,636.2 1079.6,640.1 1085.6,636.7 1091.7,642.8 1097.8,646.3 1103.9,651.1 1109.9,646.1 1116.0,630.1 1122.1,602.5 1128.2,574.2 1134.2,557.5 1140.3,550.0 1146.4,554.9 1152.5,559.8 1158.6,574.3 1164.6,588.3 1170.7,615.4 1176.8,637.6 1182.9,655.2 1188.9,655.9 1195.0,649.3 1201.1,642.4 1207.2,644.2 1213.2,652.3 1219.3,659.9 1225.4,662.3 1231.5,659.5 1237.5,645.6 1243.6,626.0 1249.7,603.9 1255.8,594.9 1261.8,586.3 1267.9,581.2 1274.0,569.7 1280.1,563.9 1286.2,557.8 1292.2,556.8 1298.3,563.0 1304.4,582.9 1310.5,610.0 1316.5,633.7 1322.6,647.2 1328.7,649.4 1334.8,638.4 1340.8,613.0 1346.9,587.6 1353.0,574.0 1359.1,578.7 1365.1,582.2 1371.2,584.8 1377.3,586.2 1383.4,598.4 1389.5,611.5 1395.5,621.2 1401.6,619.5 1407.7,621.4" fill="none" stroke="#ff6d00" stroke-width="1" stroke-linejoin="round" shape-rendering="geometricPrecision"/>
<circle cx="95.2" cy="580.9" r="3.5" fill="#fff" stroke="#2962ff" stroke-width="1.05" shape-rendering="geometricPrecision"/>
<circle cx="95.2" cy="600.7" r="3.5" fill="#fff" stroke="#2962ff" stroke-width="1.05" shape-rendering="geometricPrecision"/>
<circle cx="210.6" cy="594.3" r="3.5" fill="#fff" stroke="#2962ff" stroke-width="1.05" shape-rendering="geometricPrecision"/>
<circle cx="210.6" cy="603.4" r="3.5" fill="#fff" stroke="#2962ff" stroke-width="1.05" shape-rendering="geometricPrecision"/>
<circle cx="326.1" cy="549.6" r="3.5" fill="#fff" stroke="#2962ff" stroke-width="1.05" shape-rendering="geometricPrecision"/>
<circle cx="326.1" cy="566.7" r="3.5" fill="#fff" stroke="#2962ff" stroke-width="1.05" shape-rendering="geometricPrecision"/>
<circle cx="441.5" cy="575.2" r="3.5" fill="#fff" stroke="#2962ff" stroke-width="1.05" shape-rendering="geometricPrecision"/>
<circle cx="441.5" cy="602.8" r="3.5" fill="#fff" stroke="#2962ff" stroke-width="1.05" shape-rendering="geometricPrecision"/>
<circle cx="557.0" cy="603.4" r="3.5" fill="#fff" stroke="#2962ff" stroke-width="1.05" shape-rendering="geometricPrecision"/>
<circle cx="557.0" cy="615.6" r="3.5" fill="#fff" stroke="#2962ff" stroke-width="1.05" shape-rendering="geometricPrecision"/>
<circle cx="672.4" cy="572.4" r="3.5" fill="#fff" stroke="#2962ff" stroke-width="1.05" shape-rendering="geometricPrecision"/>
<circle cx="672.4" cy="563.0" r="3.5" fill="#fff" stroke="#2962ff" stroke-width="1.05" shape-rendering="geometricPrecision"/>
<circle cx="787.9" cy="648.3" r="3.5" fill="#fff" stroke="#2962ff" stroke-width="1.05" shape-rendering="geometricPrecision"/>
<circle cx="787.9" cy="653.9" r="3.5" fill="#fff" stroke="#2962ff" stroke-width="1.05" shape-rendering="geometricPrecision"/>
<circle cx="903.3" cy="586.7" r="3.5" fill="#fff" stroke="#2962ff" stroke-width="1.05" shape-rendering="geometricPrecision"/>
<circle cx="903.3" cy="610.9" r="3.5" fill="#fff" stroke="#2962ff" stroke-width="1.05" shape-rendering="geometricPrecision"/>
<circle cx="1018.8" cy="651.8" r="3.5" fill="#fff" stroke="#2962ff" stroke-width="1.05" shape-rendering="geometricPrecision"/>
<circle cx="1018.8" cy="649.6" r="3.5" fill="#fff" stroke="#2962ff" stroke-width="1.05" shape-rendering="geometricPrecision"/>
<circle cx="1134.2" cy="550.8" r="3.5" fill="#fff" stroke="#2962ff" stroke-width="1.05" shape-rendering="geometricPrecision"/>
<circle cx="1134.2" cy="557.5" r="3.5" fill="#fff" stroke="#2962ff" stroke-width="1.05" shape-rendering="geometricPrecision"/>
<circle cx="1249.7" cy="587.2" r="3.5" fill="#fff" stroke="#2962ff" stroke-width="1.05" shape-rendering="geometricPrecision"/>
<circle cx="1249.7" cy="603.9" r="3.5" fill="#fff" stroke="#2962ff" stroke-width="1.05" shape-rendering="geometricPrecision"/>
<circle cx="1365.1" cy="579.3" r="3.5" fill="#fff" stroke="#2962ff" stroke-width="1.05" shape-rendering="geometricPrecision"/>
<circle cx="1365.1" cy="582.2" r="3.5" fill="#fff" stroke="#2962ff" stroke-width="1.05" shape-rendering="geometricPrecision"/>
<rect x="1716" y="0" width="68" height="530" fill="#fff"/>
<rect x="1716" y="531" width="68" height="145" fill="#fff"/>
</g>
</svg>
<div class="al" style="top:512.9px">4725.00</div>
<div class="al" style="top:475.2px">4750.00</div>
<div class="al" style="top:437.6px">4775.00</div>
<div class="al" style="top:399.9px">4800.00</div>
<div class="al" style="top:362.2px">4825.00</div>
<div class="al" style="top:324.6px">4850.00</div>
<div class="al" style="top:286.9px">4875.00</div>
<div class="al" style="top:249.2px">4900.00</div>
<div class="al" style="top:211.6px">4925.00</div>
<div class="al" style="top:173.9px">4950.00</div>
<div class="al" style="top:136.2px">4975.00</div>
<div class="al" style="top:98.6px">5000.00</div>
<div class="al" style="top:60.9px">5025.00</div>
<div class="al" style="top:21.9px">5050.00</div>
<div class="al" style="top:558.9px">80.00</div>
<div class="al" style="top:663.1px;height:12.9px;overflow:hidden">0.00</div>
<div class="tag" style="top:28px;height:20.5px;line-height:23.5px;background:#f23645;width:68px;font-weight:bold">5046.55</div>
<div class="tag" style="top:182px;height:20.8px;line-height:23.8px;background:#f23645;width:68px;font-weight:bold">4944.29</div>
<div class="tag" style="top:264px;height:20.8px;line-height:23.8px;background:#f23645;width:68px;font-weight:bold">4889.48</div>
<div class="tag" style="top:341px;height:20.2px;line-height:23.2px;background:#4caf50;width:68px;font-weight:bold">4827.16</div>
<div class="tag" style="top:361.2px;height:20.5px;line-height:23.5px;background:#f23645;width:68px;font-weight:bold">4825.09</div>
<div class="tag" style="top:429px;height:20.8px;line-height:23.8px;background:#4caf50;width:68px;font-weight:bold">4779.69</div>
<div class="tag" style="top:598px;height:21px;line-height:24px;background:#ff6d00;width:53px;">39.36</div>
<div class="tag" style="top:619px;height:20px;line-height:23px;background:#2196f3;width:53px;">33.94</div>
<!-- legend -->
<div class="abs" style="left:6px;top:5px;font-size:15px;line-height:20px;color:#131722">Euro50 · 4h</div>
<div class="abs" style="left:99px;top:5px;width:18px;height:18px;border-radius:9px;background:rgba(8,153,129,0.2)"></div>
<div class="abs" style="left:104px;top:10px;width:8px;height:8px;border-radius:4px;background:#089981"></div>
<div class="abs oh" style="left:133.1px">O<span>4888.47</span></div><div class="abs oh" style="left:195.1px">H<span>4890.11</span></div><div class="abs oh" style="left:256.5px">L<span>4822.02</span></div><div class="abs oh" style="left:315.3px">C<span>4825.09</span></div><div class="abs oh" style="left:376.3px;letter-spacing:-0.2px"><span>−63.38 (−1.30%)</span></div>
<!-- buy sell -->
<div class="abs" style="left:0;top:28px;width:188px;height:44px;background:rgba(255,255,255,0.6)"></div>
<div class="abs" style="left:5px;top:30px;width:60px;height:36px;border:1px solid #f23645;border-radius:4px;background:#fff;text-align:center;line-height:38px;font-size:12.6px;color:#f7525f">4825.09</div>
<div class="abs" style="left:123px;top:30px;width:59px;height:36px;border:1px solid #26a69a;border-radius:4px;background:#fff;text-align:center;line-height:38px;font-size:12.6px;color:#22ab94">4826.30</div>
<div class="abs" style="left:71px;top:46px;width:48px;height:21px;border-radius:3px;background:#f8f9fd;text-align:center;line-height:22px;font-size:12.5px;color:#131722">600.1</div>
<div class="abs" style="left:71px;top:30px;width:48px;text-align:center;line-height:14px;font-size:10.4px;color:#131722">1.21</div>
<!-- stoch legend -->
<div class="abs" style="left:1px;top:535px;width:184px;height:22px;border:1px solid #2962ff;border-radius:4px;background:#fff"></div>
<div class="abs" style="left:5.6px;top:537.8px;font-size:12.7px;line-height:20px;color:#131722">Stoch <span style="color:#787b86;word-spacing:0px">5 3 3</span></div>
<svg width="1784" height="747" viewBox="0 0 1784 747" style="pointer-events:none" shape-rendering="geometricPrecision" fill="none" stroke="#131722" stroke-width="1.05">
<!-- eye -->
<path d="M80.3 547 C82.5 543 85 541.3 88 541.3 S93.5 543 95.7 547 C93.5 551 91 552.7 88 552.7 S82.5 551 80.3 547 Z"/>
<circle cx="88" cy="547" r="2.6"/>
<!-- gear -->
<circle cx="116.05" cy="546.9" r="2.7"/>
<path d="M116.05 539.85 L116.40 539.86 L116.74 539.88 L117.06 540.12 L117.32 540.52 L117.54 540.94 L117.78 541.21 L118.05 541.30 L118.33 541.40 L118.59 541.52 L118.85 541.65 L119.21 541.63 L119.66 541.50 L120.14 541.39 L120.52 541.45 L120.78 541.68 L121.04 541.91 L121.27 542.17 L121.50 542.43 L121.56 542.81 L121.45 543.29 L121.32 543.74 L121.30 544.10 L121.43 544.36 L121.55 544.62 L121.65 544.90 L121.74 545.17 L122.01 545.41 L122.43 545.63 L122.83 545.89 L123.07 546.21 L123.09 546.55 L123.10 546.90 L123.09 547.25 L123.07 547.59 L122.83 547.91 L122.43 548.17 L122.01 548.39 L121.74 548.63 L121.65 548.90 L121.55 549.18 L121.43 549.44 L121.30 549.70 L121.32 550.06 L121.45 550.51 L121.56 550.99 L121.50 551.37 L121.27 551.63 L121.04 551.89 L120.78 552.12 L120.52 552.35 L120.14 552.41 L119.66 552.30 L119.21 552.17 L118.85 552.15 L118.59 552.28 L118.33 552.40 L118.05 552.50 L117.78 552.59 L117.54 552.86 L117.32 553.28 L117.06 553.68 L116.74 553.92 L116.40 553.94 L116.05 553.95 L115.70 553.94 L115.36 553.92 L115.04 553.68 L114.78 553.28 L114.56 552.86 L114.32 552.59 L114.05 552.50 L113.77 552.40 L113.51 552.28 L113.25 552.15 L112.89 552.17 L112.44 552.30 L111.96 552.41 L111.58 552.35 L111.32 552.12 L111.06 551.89 L110.83 551.63 L110.60 551.37 L110.54 550.99 L110.65 550.51 L110.78 550.06 L110.80 549.70 L110.67 549.44 L110.55 549.18 L110.45 548.90 L110.36 548.63 L110.09 548.39 L109.67 548.17 L109.27 547.91 L109.03 547.59 L109.01 547.25 L109.00 546.90 L109.01 546.55 L109.03 546.21 L109.27 545.89 L109.67 545.63 L110.09 545.41 L110.36 545.17 L110.45 544.90 L110.55 544.62 L110.67 544.36 L110.80 544.10 L110.78 543.74 L110.65 543.29 L110.54 542.81 L110.60 542.43 L110.83 542.17 L111.06 541.91 L111.32 541.68 L111.58 541.45 L111.96 541.39 L112.44 541.50 L112.89 541.63 L113.25 541.65 L113.51 541.52 L113.77 541.40 L114.05 541.30 L114.32 541.21 L114.56 540.94 L114.78 540.52 L115.04 540.12 L115.36 539.88 L115.70 539.86 Z" stroke-linejoin="round"/>
<!-- x -->
<path d="M139 542 l10 10 M149 542 l-10 10"/>
<!-- dots -->
<circle cx="165.9" cy="546.9" r="1.5"/><circle cx="172" cy="546.9" r="1.5"/><circle cx="178.1" cy="546.9" r="1.5"/>
<!-- axis gear -->
<circle cx="1752.5" cy="692.5" r="4.85" stroke-width="1.1"/>
<path d="M1757.70 692.50 L1760.00 692.50 M1756.18 696.18 L1757.80 697.80 M1752.50 697.70 L1752.50 700.00 M1748.82 696.18 L1747.20 697.80 M1747.30 692.50 L1745.00 692.50 M1748.82 688.82 L1747.20 687.20 M1752.50 687.30 L1752.50 685.00 M1756.18 688.82 L1757.80 687.20" stroke-width="1.1"/>
<!-- calendar goto -->
<path d="M435.3 729.6 V726.5 a2 2 0 0 1 2 -2 H448.4 a2 2 0 0 1 2 2 V735.4 a2 2 0 0 1 -2 2 H443.1 M435.3 728.3 H450.4 M439.5 723 V725.8 M446.5 723 V725.8 M434 734.4 H441.7 M438.2 731 l3.5 3.4 l-3.5 3.4" stroke-width="1.1"/>
</svg>
<!-- time axis -->
<div id="taxis"><div class="tl" style="left:16.6px">11</div><div class="tl" style="left:125.9px">14</div><div class="tl" style="left:235.3px">19</div><div class="tl" style="left:344.7px">24</div><div class="tl" style="left:435.8px">12:00</div><div class="tl" style="left:527.0px"><b>Jul</b></div><div class="tl" style="left:636.3px">4</div><div class="tl" style="left:745.7px">9</div><div class="tl" style="left:855.0px">12</div><div class="tl" style="left:964.4px">17</div><div class="tl" style="left:1073.8px">22</div><div class="tl" style="left:1183.1px">25</div><div class="tl" style="left:1274.3px">12:00</div><div class="tl" style="left:1365.4px"><b>Aug</b></div><div class="tl" style="left:1474.8px">6</div><div class="tl" style="left:1584.1px">9</div><div class="tl" style="left:1675.3px">12:00</div></div>
<!-- toolbar -->
<div class="abs" style="left:0;top:708px;width:1784px;height:3px;background:#e0e3eb"></div>
<div class="abs" style="left:155px;top:711px;width:1px;height:36px;background:#e0e3eb"></div>
<div class="abs" style="left:417px;top:719px;width:1px;height:23px;background:#e0e3eb"></div>
<div class="abs" style="left:1675px;top:719px;width:1px;height:23px;background:#e0e3eb"></div>
<div class="abs" id="pw" style="left:13px;top:720.2px;font-size:12.65px;line-height:20px;color:#6a6d78;transform:scaleX(0.925);transform-origin:0 0">Powered by <span style="color:#2962ff;text-decoration:underline">TradingView</span></div>
<div class="rb" style="left:172px">1D</div><div class="rb" style="left:202px">5D</div><div class="rb" style="left:232px">1M</div><div class="rb" style="left:263px">3M</div><div class="rb" style="left:294px">6M</div><div class="rb" style="left:326px">1Y</div><div class="rb" style="left:355px">5Y</div><div class="rb" style="left:384px">All</div>
<div class="rb" id="clock" style="left:1550px">09:59:55 (UTC+2)</div>
<div class="rb" style="left:1689px">%</div><div class="rb" style="left:1717px">log</div><div class="rb" style="left:1749px">auto</div>
</body></html>
